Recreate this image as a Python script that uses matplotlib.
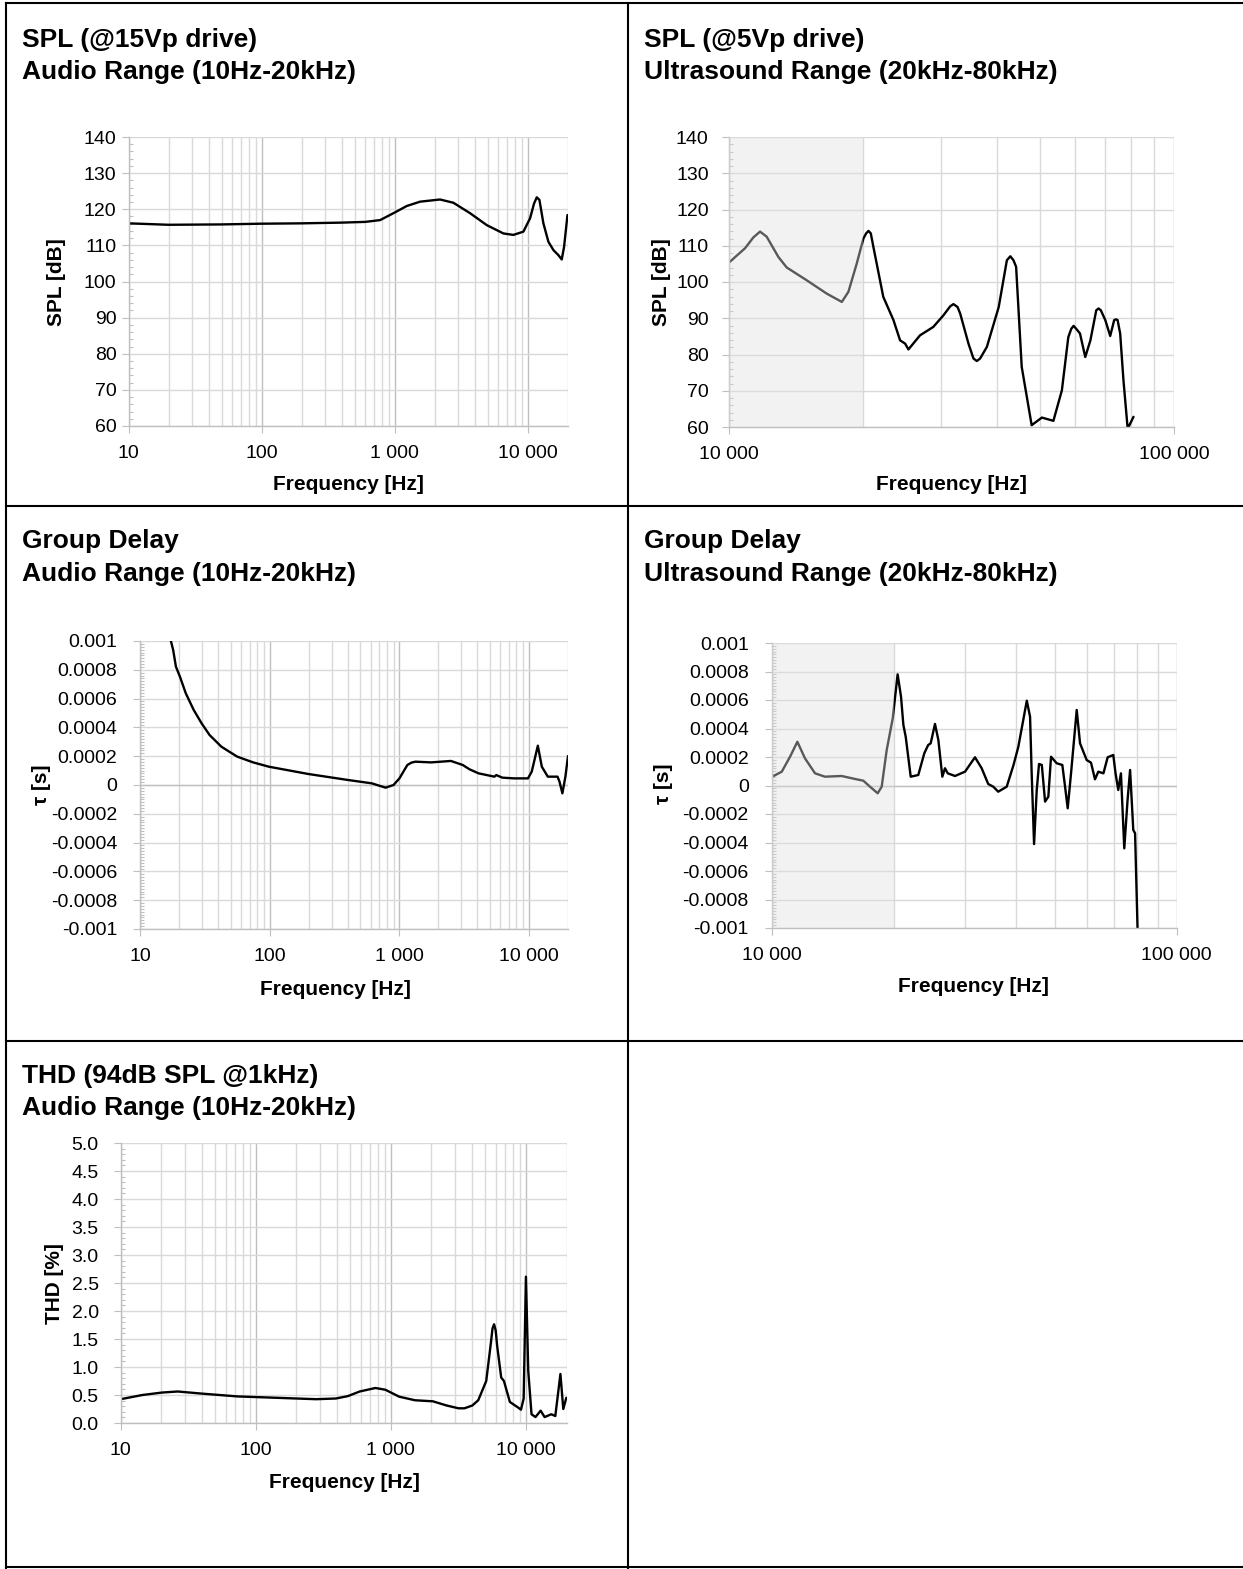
import matplotlib
matplotlib.use("Agg")
import matplotlib.pyplot as plt
from matplotlib.lines import Line2D
from matplotlib.ticker import FixedLocator, FixedFormatter, MultipleLocator, NullFormatter

plt.rcParams['font.family'] = ['Liberation Sans', 'DejaVu Sans']

W, H = 1243, 1569

# SPL, audio range (15Vp drive)
spl_audio_f = [10, 20, 50, 100, 200, 400, 600, 776, 976, 1230, 1549, 2188, 2755, 3680, 4910,
               6548, 7782, 9248, 10380, 11120, 11660, 12200, 13070, 14250, 15540, 16930,
               17950, 18690, 19820]
spl_audio_db = [116.1, 115.7, 115.8, 116.0, 116.1, 116.3, 116.5, 117.0, 118.9, 120.9, 122.1,
                122.7, 121.8, 118.9, 115.6, 113.3, 112.9, 113.8, 117.5, 121.6, 123.3, 122.6,
                116.1, 111.0, 108.7, 107.3, 106.1, 109.6, 118.4]

# SPL, ultrasound range (5Vp drive)
spl_us_f = [10000, 10880, 11360, 11760, 12170, 12930, 13500, 14960, 16600, 17950, 18570, 19390,
            20070, 20350, 20600, 20850, 21130, 22240, 23440, 24260, 24900, 25330, 26900, 28800,
            30350, 31440, 31970, 32650, 33100, 34550, 35450, 36070, 36700, 38000, 40400, 42140,
            42900, 43600, 44200, 45500, 47900, 50500, 53600, 56000, 57900, 58800, 59500, 60300,
            61500, 63200, 64900, 66900, 67700, 68500, 70100, 71900, 73400, 74100, 74700, 75700,
            77000, 78700, 81100]
spl_us_db = [105.3, 109.3, 112.3, 113.9, 112.5, 106.9, 104.0, 100.5, 96.8, 94.5, 97.3, 105.1,
             112.0, 113.4, 114.1, 113.4, 109.7, 95.9, 89.5, 83.9, 83.0, 81.4, 85.3, 87.6,
             90.8, 93.3, 93.9, 93.1, 91.3, 83.0, 78.9, 78.2, 78.9, 82.1, 93.1, 106.0,
             107.1, 106.0, 104.2, 76.6, 60.5, 62.6, 61.7, 70.1, 84.8, 87.1, 87.9, 87.1,
             85.8, 79.3, 83.9, 92.2, 92.7, 92.2, 89.5, 85.1, 89.5, 89.7, 89.5, 85.8,
             72.9, 59.5, 62.8]

# Group delay, audio range
gd_audio_f = [17.2, 17.9, 18.8, 20.2, 22.4, 25.8, 29.7, 34.2, 42.2, 48.6, 55.9, 74.2, 98.2, 198,
              401, 611, 781, 900, 1000, 1072, 1151, 1235, 1326, 1755, 2495, 3078, 3475, 4077,
              5405, 5590, 6225, 7680, 9820, 10500, 11700, 12560, 13970, 16600, 17200, 18100,
              19100, 20000]
gd_audio_s = [0.001, 0.000938, 0.000822, 0.000752, 0.000637, 0.000521, 0.000428, 0.000347,
              0.000266, 0.000231, 0.000197, 0.000157, 0.000127, 0.0000764, 0.0000347, 0.0000116,
              -0.0000185, 0.0, 0.0000463, 0.0000925, 0.000139, 0.000155, 0.000162, 0.000157,
              0.000167, 0.000139, 0.000109, 0.000081, 0.0000579, 0.000069, 0.000051, 0.000046,
              0.000046, 0.000093, 0.000273, 0.000127, 0.0000579, 0.0000579, 0.0000231,
              -0.0000579, 0.0000579, 0.000201]

# Group delay, ultrasound range
gd_us_f = [10000, 10560, 11070, 11540, 12050, 12760, 13500, 14850, 16030, 16800, 17450, 18230,
           18650, 19190, 19860, 20420, 20820, 21100, 21380, 22000, 22970, 23770, 24300, 24650,
           25260, 25750, 26340, 26740, 27160, 28310, 29970, 31720, 32950, 34200, 35200, 36200,
           38000, 39500, 40600, 42600, 43400, 43800, 44400, 45080, 45670, 46400, 47270, 48160,
           48900, 50500, 52150, 52970, 53770, 54800, 56600, 57680, 59900, 61400, 62800, 64000,
           65900, 67500, 69700, 70600, 71700, 72800, 74200, 75600, 76700, 78100, 78900, 80100]
gd_us_s = [0.0000618, 0.000097, 0.000202, 0.000307, 0.000191, 0.0000855, 0.0000618, 0.0000667,
           0.0000456, 0.0000337, -0.0000084, -0.0000547, -0.0000084, 0.000249, 0.000471, 0.00078,
           0.000623, 0.000425, 0.000343, 0.0000618, 0.0000737, 0.000226, 0.000284, 0.000296,
           0.000432, 0.000319, 0.0000618, 0.000121, 0.0000855, 0.0000667, 0.000097, 0.000198,
           0.000121, 0.0000105, -0.0000084, -0.0000435, -0.0000084, 0.000144, 0.000272, 0.000595,
           0.000483, 0.0000855, -0.000411, -0.0000316, 0.000151, 0.000144, -0.000113, -0.0000784,
           0.000202, 0.000156, 0.000144, -0.0000084, -0.00016, 0.0000855, 0.00053, 0.000296,
           0.000179, 0.00016, 0.0000435, 0.000097, 0.0000855, 0.000198, 0.000214, 0.0000855,
           -0.0000316, 0.0000855, -0.000441, -0.000102, 0.000109, -0.000312, -0.000335, -0.00105]

# THD, audio range (94dB SPL @1kHz)
thd_f = [10, 14.5, 20.3, 26.5, 39.8, 72.8, 143, 280, 392, 481, 588, 769, 911, 1153, 1510, 2046,
         2588, 3170, 3508, 4011, 4436, 5083, 5508, 5659, 5812, 5970, 6125, 6562, 6873, 7608,
         8705, 9190, 9620, 10000, 10400, 11000, 11770, 12850, 13750, 15400, 16500, 18000,
         18900, 19900]
thd_pct = [0.425, 0.5, 0.544, 0.5625, 0.525, 0.475, 0.45, 0.425, 0.4375, 0.48, 0.5625, 0.625,
           0.594, 0.47, 0.406, 0.3875, 0.3125, 0.2625, 0.2625, 0.3125, 0.406, 0.75, 1.4375,
           1.69, 1.7625, 1.656, 1.375, 0.8125, 0.75, 0.375, 0.28, 0.2375, 0.4375, 2.6125,
           0.9375, 0.156, 0.106, 0.22, 0.106, 0.156, 0.125, 0.875, 0.25, 0.45]

audio_xticks = [10, 100, 1000, 10000]
audio_xlabels = ['10', '100', '1 000', '10 000']
us_xticks = [10000, 100000]
us_xlabels = ['10 000', '100 000']
spl_yticks = list(range(60, 141, 10))
gd_yticks = [-0.001, -0.0008, -0.0006, -0.0004, -0.0002, 0, 0.0002, 0.0004, 0.0006, 0.0008, 0.001]
gd_ylabels = ['-0.001', '-0.0008', '-0.0006', '-0.0004', '-0.0002', '0',
              '0.0002', '0.0004', '0.0006', '0.0008', '0.001']
thd_yticks = [i * 0.5 for i in range(11)]
thd_ylabels = ['%.1f' % v for v in thd_yticks]

GRID = '#d9d9d9'
AXIS = '#bfbfbf'
TICK_FS = 14
LABEL_FS = 15
TITLE_FS = 19

fig = plt.figure(figsize=(W / 100, H / 100), dpi=100)


def add_px_axes(x0, y0, x1, y1):
    return fig.add_axes([x0 / W, 1 - y1 / H, (x1 - x0) / W, (y1 - y0) / H])


def style_axes(ax, xlim, xticks, xlabels, ylim, yticks, ylabels, yminor, ypad):
    ax.set_xscale('log')
    ax.set_xlim(*xlim)
    ax.set_ylim(*ylim)
    ax.xaxis.set_major_locator(FixedLocator(xticks))
    ax.xaxis.set_major_formatter(FixedFormatter(xlabels))
    ax.xaxis.set_minor_formatter(NullFormatter())
    ax.yaxis.set_major_locator(FixedLocator(yticks))
    ax.yaxis.set_major_formatter(FixedFormatter(ylabels))
    ax.yaxis.set_minor_locator(MultipleLocator(yminor))
    ax.xaxis.grid(True, which='major', color=AXIS, linewidth=1.0)
    ax.xaxis.grid(True, which='minor', color=GRID, linewidth=1.0)
    ax.yaxis.grid(True, which='major', color=GRID, linewidth=1.0)
    ax.set_axisbelow(True)
    for s in ['top', 'right']:
        ax.spines[s].set_visible(False)
    for s in ['left', 'bottom']:
        ax.spines[s].set_color(AXIS)
        ax.spines[s].set_linewidth(1.0)
    ax.tick_params(axis='x', which='major', direction='out', length=5, color=AXIS,
                   labelsize=TICK_FS, pad=8.5)
    ax.tick_params(axis='x', which='minor', length=0)
    ax.tick_params(axis='y', which='major', direction='out', length=5, color=AXIS,
                   labelsize=TICK_FS, pad=ypad)
    ax.tick_params(axis='y', which='minor', direction='in', length=3, color=AXIS, width=0.8)


def title(x, y, lines):
    fig.text(x / W, 1 - y[0] / H, lines[0], fontsize=TITLE_FS, fontweight='bold', va='baseline')
    fig.text(x / W, 1 - y[1] / H, lines[1], fontsize=TITLE_FS, fontweight='bold', va='baseline')


def xlabel(x, y):
    fig.text(x / W, 1 - y / H, 'Frequency [Hz]', fontsize=LABEL_FS, fontweight='bold',
             ha='center', va='center')


def ylabel(x, y, text):
    fig.text(x / W, 1 - y / H, text, fontsize=LABEL_FS, fontweight='bold',
             ha='center', va='center', rotation=90)


def shade(ax):
    # translucent band drawn over the line, like the reference
    ax.axvspan(10000, 20000, color='#dfdfdf', alpha=0.4, lw=0, zorder=5)


LINE = dict(color='black', linewidth=1.7, solid_joinstyle='round', solid_capstyle='round')

# --- SPL audio ---
ax1 = add_px_axes(128.5, 137, 568, 426)
style_axes(ax1, (10, 20000), audio_xticks, audio_xlabels, (60, 140), spl_yticks,
           [str(v) for v in spl_yticks], 2, 3.6)
ax1.plot(spl_audio_f, spl_audio_db, **LINE)
title(22, (47, 79), ['SPL (@15Vp drive)', 'Audio Range (10Hz-20kHz)'])
xlabel(348, 485)
ylabel(56, 282, 'SPL [dB]')

# --- SPL ultrasound ---
ax2 = add_px_axes(728.7, 137, 1174, 427)
style_axes(ax2, (10000, 100000), us_xticks, us_xlabels, (60, 140), spl_yticks,
           [str(v) for v in spl_yticks], 2, 9.4)
ax2.plot(spl_us_f, spl_us_db, **LINE)
shade(ax2)
title(644.5, (47, 79), ['SPL (@5Vp drive)', 'Ultrasound Range (20kHz-80kHz)'])
xlabel(951, 485)
ylabel(661, 282, 'SPL [dB]')

# --- Group delay audio ---
ax3 = add_px_axes(140.4, 641, 568, 929)
style_axes(ax3, (10, 20000), audio_xticks, audio_xlabels, (-0.001, 0.001), gd_yticks,
           gd_ylabels, 0.00002, 11.5)
ax3.axhline(0, color=AXIS, linewidth=1.0, zorder=1)
ax3.plot(gd_audio_f, gd_audio_s, **LINE)
title(22, (548, 581), ['Group Delay', 'Audio Range (10Hz-20kHz)'])
xlabel(335, 990)
ylabel(42, 785, 'τ [s]')

# --- Group delay ultrasound ---
ax4 = add_px_axes(772.2, 643, 1176.7, 928)
style_axes(ax4, (10000, 100000), us_xticks, us_xlabels, (-0.001, 0.001), gd_yticks,
           gd_ylabels, 0.00002, 11.9)
ax4.axhline(0, color=AXIS, linewidth=1.0, zorder=1)
ax4.plot(gd_us_f, gd_us_s, **LINE)
shade(ax4)
title(644.5, (548, 581), ['Group Delay', 'Ultrasound Range (20kHz-80kHz)'])
xlabel(973, 987)
ylabel(663, 784, 'τ [s]')

# --- THD audio ---
ax5 = add_px_axes(120.6, 1143, 566.6, 1423)
style_axes(ax5, (10, 20000), audio_xticks, audio_xlabels, (0, 5), thd_yticks,
           thd_ylabels, 0.1, 10.8)
ax5.plot(thd_f, thd_pct, **LINE)
title(22, (1083, 1115), ['THD (94dB SPL @1kHz)', 'Audio Range (10Hz-20kHz)'])
xlabel(344, 1482)
ylabel(54, 1284, 'THD [%]')


# table borders
def hline(y, x0=6, x1=W):
    fig.add_artist(Line2D([x0 / W, x1 / W], [1 - y / H, 1 - y / H], color='black', lw=1.5))


def vline(x, y0=3, y1=H):
    fig.add_artist(Line2D([x / W, x / W], [1 - y0 / H, 1 - y1 / H], color='black', lw=1.5))


hline(3)
hline(506)
hline(1041)
hline(1567)
vline(6)
vline(628)

fig.savefig('out.png', dpi=100)
